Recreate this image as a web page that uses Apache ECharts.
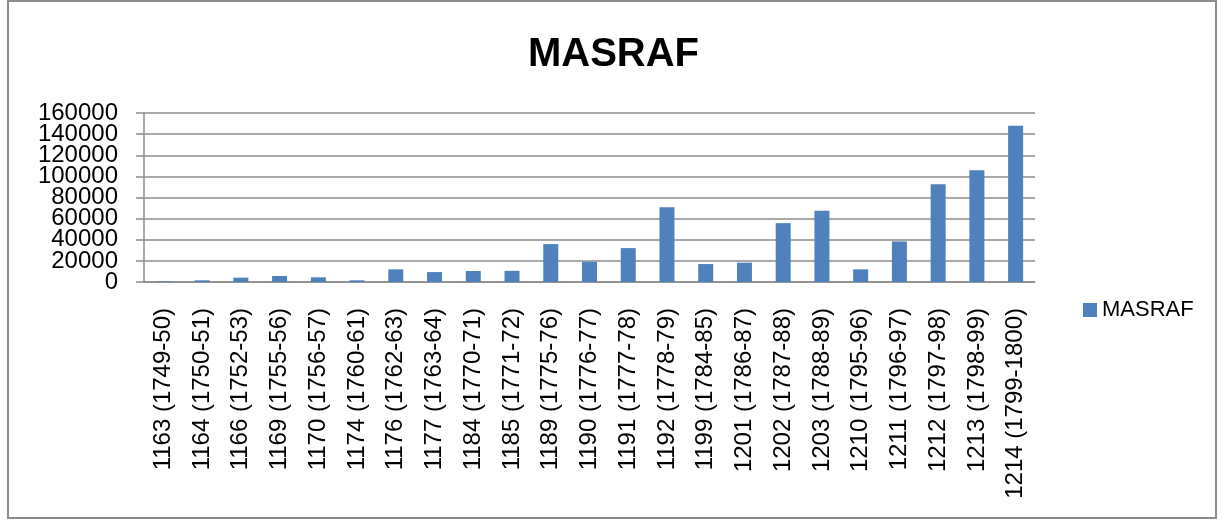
<!DOCTYPE html>
<html>
<head>
<meta charset="utf-8">
<script src="https://cdn.jsdelivr.net/npm/echarts@6/dist/echarts.min.js"></script>
<style>
  html, body { margin: 0; padding: 0; background: #fff; }
  #main { width: 1227px; height: 530px; }
</style>
</head>
<body>
<div id="main"></div>
<script>
// years (hijri + gregorian)
var categories = [
  '1163 (1749-50)', '1164 (1750-51)', '1166 (1752-53)', '1169 (1755-56)',
  '1170 (1756-57)', '1174 (1760-61)', '1176 (1762-63)', '1177 (1763-64)',
  '1184 (1770-71)', '1185 (1771-72)', '1189 (1775-76)', '1190 (1776-77)',
  '1191 (1777-78)', '1192 (1778-79)', '1199 (1784-85)', '1201 (1786-87)',
  '1202 (1787-88)', '1203 (1788-89)', '1210 (1795-96)', '1211 (1796-97)',
  '1212 (1797-98)', '1213 (1798-99)', '1214 (1799-1800)'
];
var masraf = [
  500, 1600, 4100, 5700, 4400, 1600, 12000, 9400,
  10400, 10600, 35900, 19200, 32100, 70800, 17000, 18300,
  55700, 67400, 12000, 38400, 92500, 105800, 147900
];
var yMin = 0, yMax = 160000, yStep = 20000;

// labels are tightly packed, so they are split over two stacked axes
// (otherwise echarts drops the ones next to min/max)
function yLabel(even) {
  return {
    color: '#000', fontSize: 24, margin: 26,
    showMinLabel: true, showMaxLabel: true,
    formatter: function (v) {
      var isEven = (v / yStep) % 2 === 0;
      return isEven === even ? String(v) : '';
    }
  };
}

var myChart = echarts.init(document.getElementById('main'));
myChart.setOption({
  animation: false,
  backgroundColor: '#fff',
  textStyle: { fontFamily: 'Liberation Sans' },
  title: {
    text: 'MASRAF',
    left: 'center',
    top: 30,
    textStyle: { fontSize: 40, fontWeight: 'bold', color: '#000', fontFamily: 'Liberation Sans' }
  },
  legend: {
    data: [{ name: 'MASRAF', icon: 'rect' }],
    left: 1078,
    top: 294,
    itemWidth: 14,
    itemHeight: 14,
    itemGap: 8,
    textStyle: { fontSize: 22, color: '#000' }
  },
  grid: {
    left: 144,
    right: 192,
    top: 113,
    height: 169,
    containLabel: false
  },
  xAxis: {
    type: 'category',
    data: categories,
    axisLine: { lineStyle: { color: '#8c8c8c', width: 1.5 } },
    axisTick: { length: 7, lineStyle: { color: '#8c8c8c', width: 1.5 } },
    axisLabel: { interval: 0, rotate: 90, margin: 26, fontSize: 24, color: '#000' }
  },
  yAxis: [{
    type: 'value',
    position: 'left',
    min: yMin,
    max: yMax,
    interval: yStep,
    axisLine: { show: true, lineStyle: { color: '#8c8c8c', width: 1.5 } },
    axisTick: { show: true, length: 8, lineStyle: { color: '#8c8c8c', width: 1.5 } },
    splitLine: { lineStyle: { color: '#8c8c8c', width: 1.5 } },
    axisLabel: yLabel(true)
  }, {
    type: 'value',
    position: 'left',
    offset: 0,
    min: yMin,
    max: yMax,
    interval: yStep,
    axisLine: { show: false },
    axisTick: { show: false },
    splitLine: { show: false },
    axisLabel: yLabel(false)
  }],
  series: [{
    name: 'MASRAF',
    type: 'bar',
    yAxisIndex: 0,
    data: masraf,
    barWidth: 15,
    itemStyle: { color: '#4F81BD' }
  }],
  graphic: [{
    type: 'rect',
    shape: { x: 8, y: 1, width: 1208, height: 517 },
    style: { fill: 'none', stroke: '#8c8c8c', lineWidth: 2 },
    silent: true
  }]
});
</script>
</body>
</html>
